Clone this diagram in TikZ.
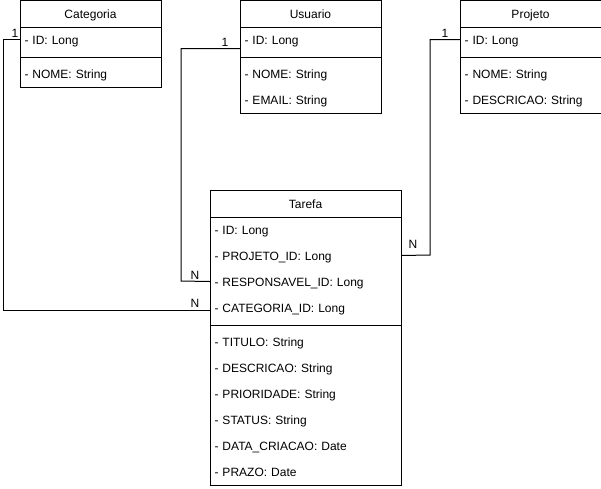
\documentclass[tikz,border=0pt]{standalone}
\usepackage{fontspec}
\setmainfont{Liberation Sans}
\usetikzlibrary{calc}

\begin{document}
\begin{tikzpicture}[x=1pt, y=-1pt, line width=1pt,
    every node/.append style={font=\fontsize{12}{14}\selectfont, inner xsep=4pt, inner ysep=2pt, anchor=north west, minimum height=26pt},
    head/.style={text width=#1, align=center, text height=10.5pt, text depth=1.5pt},
    row/.style={text width=#1, align=left, text height=10.5pt, text depth=1.5pt},
    mult/.style={anchor=center, minimum height=0pt, inner sep=1pt}]
    \useasboundingbox (0,0) rectangle (601,488);
    % Categoria
    \node[head=132pt] (ct) at (20,0) {Categoria};
    \node[row=132pt] (ctid) at (20,26) {- ID: Long};
    \node[row=132pt] (ctnome) at (20,60) {- NOME: String};
    \draw (ct.north west) rectangle (ctnome.south east);
    \draw (ct.south west) -- (ct.south east);
    \draw ([yshift=-4pt]ctid.south west) -- ([yshift=-4pt]ctid.south east);
    % Usuario
    \node[head=132pt] (us) at (240,0) {Usuario};
    \node[row=132pt] (usid) at (240,26) {- ID: Long};
    \node[row=132pt] (usnome) at (240,60) {- NOME: String};
    \node[row=132pt] (usemail) at (240,86) {- EMAIL: String};
    \draw (us.north west) rectangle (usemail.south east);
    \draw (us.south west) -- (us.south east);
    \draw ([yshift=-4pt]usid.south west) -- ([yshift=-4pt]usid.south east);
    % Projeto
    \node[head=132pt] (pj) at (460,0) {Projeto};
    \node[row=132pt] (pjid) at (460,26) {- ID: Long};
    \node[row=132pt] (pjnome) at (460,60) {- NOME: String};
    \node[row=132pt] (pjdesc) at (460,86) {- DESCRICAO: String};
    \draw (pj.north west) rectangle (pjdesc.south east);
    \draw (pj.south west) -- (pj.south east);
    \draw ([yshift=-4pt]pjid.south west) -- ([yshift=-4pt]pjid.south east);
    % Tarefa
    \node[head=182pt] (tf) at (210,190) {Tarefa};
    \node[row=182pt] (tfid) at (210,216) {- ID: Long};
    \node[row=182pt] (tfproj) at (210,242) {- PROJETO\_ID: Long};
    \node[row=182pt] (tfresp) at (210,268) {- RESPONSAVEL\_ID: Long};
    \node[row=182pt] (tfcat) at (210,294) {- CATEGORIA\_ID: Long};
    \node[row=182pt] (tftit) at (210,328) {- TITULO: String};
    \node[row=182pt] (tfdesc) at (210,354) {- DESCRICAO: String};
    \node[row=182pt] (tfprio) at (210,380) {- PRIORIDADE: String};
    \node[row=182pt] (tfstat) at (210,406) {- STATUS: String};
    \node[row=182pt] (tfdata) at (210,432) {- DATA\_CRIACAO: Date};
    \node[row=182pt] (tfprazo) at (210,458) {- PRAZO: Date};
    \draw (tf.north west) rectangle (tfprazo.south east);
    \draw (tf.south west) -- (tf.south east);
    \draw ([yshift=-4pt]tfcat.south west) -- ([yshift=-4pt]tfcat.south east);
    % relations
    \coordinate (ctbend) at (3,310);
    \coordinate (usbend) at (181,281);
    \coordinate (pjbend) at (430,255);
    \draw (ctid.west) -| (ctbend) -- (ctbend -| tfcat.west);
    \draw ([yshift=-9pt]usid.west) -| (usbend) -- (tfresp.west);
    \draw (pjid.west) -| (pjbend) -- (tfproj.east);
    \node[mult] (ct1) at (15,33) {1};
    \node[mult] (us1) at (225,42) {1};
    \node[mult] (pj1) at (445,33) {1};
    \node[mult] (ctn) at (195,303) {N};
    \node[mult] (usn) at (195,275) {N};
    \node[mult] (pjn) at (413,244) {N};
\end{tikzpicture}
\end{document}
